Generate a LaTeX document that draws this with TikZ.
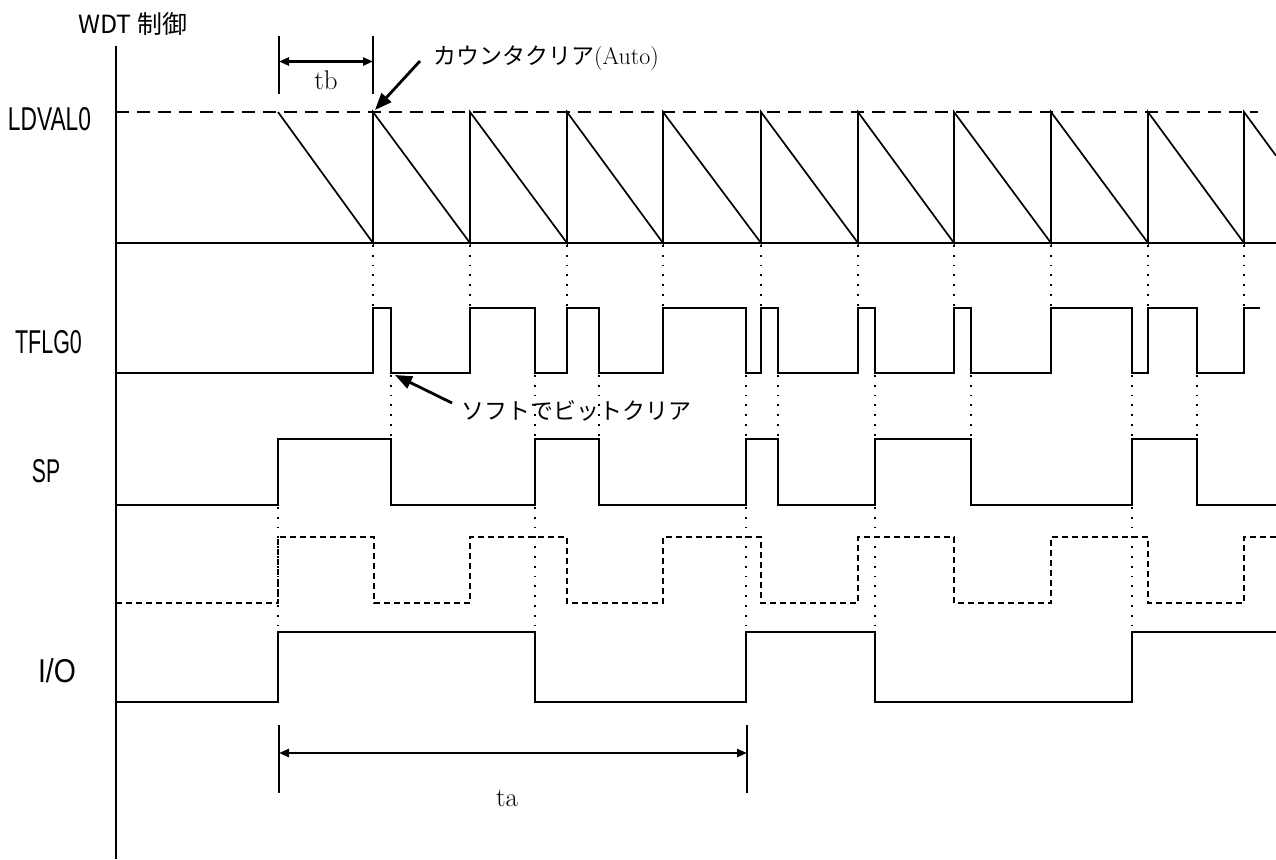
\documentclass[tikz,border=0pt]{standalone}
\usepackage{fontspec}
\usepackage{graphicx}
\usetikzlibrary{arrows.meta}
\newfontfamily\jpfont{Noto Sans CJK JP}
\newfontfamily\labfont{Liberation Sans}
\begin{document}
\begin{tikzpicture}[x=1pt,y=-1pt,
  wave/.style={line width=2pt, line join=miter},
  clk/.style={line width=1.7pt, dash pattern=on 6pt off 4pt},
  guide/.style={line width=1.5pt, dash pattern=on 1.8pt off 8pt},
  ramp/.style={line width=1.7pt},
  dimline/.style={line width=2.4pt, {Triangle[length=10pt,width=8pt]}-{Triangle[length=10pt,width=8pt]}},
  tickline/.style={line width=1.7pt},
  callout/.style={line width=2.8pt, -{Triangle[length=17pt,width=13pt]}},
  sig/.style={font=\labfont\fontsize{33}{33}\selectfont, inner sep=0, anchor=base},
  jp/.style={font=\jpfont\fontsize{23}{23}\selectfont, inner sep=0, anchor=base west},
  num/.style={font=\fontsize{27}{27}\selectfont, inner sep=0, anchor=base},
]
\useasboundingbox[fill=white] (0,0) rectangle (1276,859);

% axis
\draw[line width=1.8pt] (116,46) -- (116,859);

% LDVAL0 level
\draw[line width=1.7pt, dash pattern=on 13pt off 8pt] (116,112) -- (1258,112);

% sawtooth
\draw[ramp] (116,243) -- (1276,243);
\draw[ramp] (278,112) -- (373,243) -- (373,112) -- (470,243) -- (470,112)
  -- (567,243) -- (567,112) -- (663,243) -- (663,112) -- (761,243) -- (761,112)
  -- (858,243) -- (858,112) -- (954,243) -- (954,112) -- (1051,243) -- (1051,112)
  -- (1148,243) -- (1148,112) -- (1244,243) -- (1244,112) -- (1276,155.7);

% TFLG0
\draw[wave] (116,373) -- (373,373) -- (373,308) -- (391,308) -- (391,373)
  -- (470,373) -- (470,308) -- (535,308) -- (535,373) -- (567,373) -- (567,308)
  -- (599,308) -- (599,373) -- (663,373) -- (663,308) -- (746,308) -- (746,373)
  -- (761,373) -- (761,308) -- (778,308) -- (778,373) -- (858,373) -- (858,308)
  -- (875,308) -- (875,373) -- (954,373) -- (954,308) -- (971,308) -- (971,373)
  -- (1051,373) -- (1051,308) -- (1132,308) -- (1132,373) -- (1148,373) -- (1148,308)
  -- (1197,308) -- (1197,373) -- (1244,373) -- (1244,308) -- (1260,308);

% SP
\draw[wave] (116,505) -- (278,505) -- (278,439) -- (391,439) -- (391,505)
  -- (535,505) -- (535,439) -- (599,439) -- (599,505) -- (746,505) -- (746,439)
  -- (778,439) -- (778,505) -- (875,505) -- (875,439) -- (971,439) -- (971,505)
  -- (1132,505) -- (1132,439) -- (1197,439) -- (1197,505) -- (1276,505);

% dashed clock
\draw[clk] (116,603) -- (278,603) -- (278,537) -- (374,537) -- (374,603)
  -- (470,603) -- (470,537) -- (567,537) -- (567,603) -- (663,603) -- (663,537)
  -- (761,537) -- (761,603) -- (858,603) -- (858,537) -- (954,537) -- (954,603)
  -- (1051,603) -- (1051,537) -- (1148,537) -- (1148,603) -- (1244,603) -- (1244,537)
  -- (1276,537);

% I/O
\draw[wave] (116,702) -- (278,702) -- (278,632) -- (535,632) -- (535,702)
  -- (746,702) -- (746,632) -- (875,632) -- (875,702) -- (1132,702) -- (1132,632)
  -- (1276,632);

% dotted guides
\foreach \x in {373,470,567,663,761,858,954,1051,1148,1244}
  \draw[guide] (\x,245) -- (\x,308);
\foreach \x in {391,535,599,746,778,875,971,1132,1197}
  \draw[guide] (\x,375) -- (\x,439);
\foreach \x in {278,535,746,875,1132}
  \draw[guide] (\x,507) -- (\x,636);

% tb dimension
\coordinate (tbL) at (279,61.5);
\coordinate (tbR) at (373,61.5);
\draw[tickline] (279,36) -- (279,94);
\draw[tickline] (373,36) -- (373,94);
\draw[dimline] (tbL) -- (tbR);
\node[num] (tb) at (326,89) {tb};

% ta dimension
\coordinate (taL) at (279,753);
\coordinate (taR) at (747,753);
\draw[tickline] (279,725) -- (279,793);
\draw[tickline] (747,725) -- (747,793);
\draw[dimline] (taL) -- (taR);
\node[num] (ta) at (507,806) {ta};

% callouts
\node[jp] (cc) at (433,64) {カウンタクリア{\rmfamily\fontsize{24}{24}\selectfont (Auto)}};
\coordinate (ccT) at (420,61);
\coordinate (ccH) at (375,110);
\draw[callout] (ccT) -- (ccH);

\node[jp] (sc) at (461,419) {ソフトでビットクリア};
\coordinate (scT) at (452,403);
\coordinate (scH) at (395,375);
\draw[callout] (scT) -- (scH);

% title and labels
\node[font=\jpfont\fontsize{25}{25}\selectfont, inner sep=0, anchor=base west] (title) at (78,34) {WDT 制御};
\node[sig] (l1) at (49.5,130) {\scalebox{0.69}[1]{LDVAL0}};
\node[sig] (l2) at (48.5,353) {\scalebox{0.65}[1]{TFLG0}};
\node[sig] (l3) at (46,482) {\scalebox{0.64}[1]{SP}};
\node[sig] (l4) at (57,682) {\scalebox{0.86}[1]{I/O}};
\end{tikzpicture}
\end{document}
